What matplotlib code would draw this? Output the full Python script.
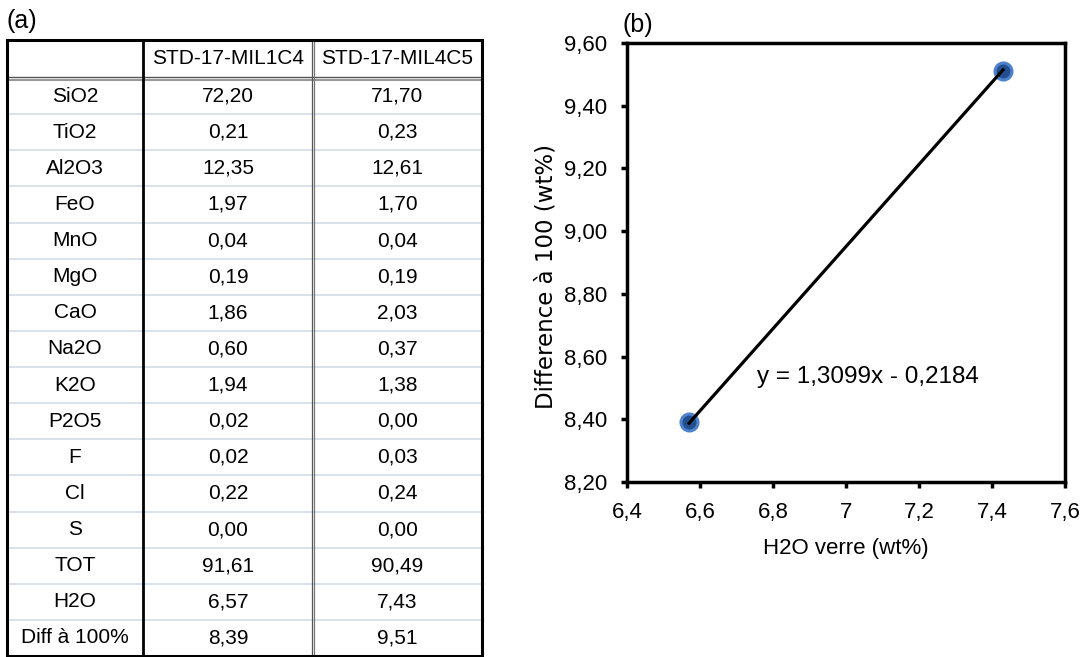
import matplotlib.pyplot as plt
import numpy as np

plt.rcParams['font.family'] = ['Liberation Sans', 'DejaVu Sans']

# table data
samples = ['STD-17-MIL1C4', 'STD-17-MIL4C5']
oxides = ['SiO2', 'TiO2', 'Al2O3', 'FeO', 'MnO', 'MgO', 'CaO', 'Na2O', 'K2O',
          'P2O5', 'F', 'Cl', 'S', 'TOT', 'H2O', 'Diff à 100%']
mil1c4 = [72.20, 0.21, 12.35, 1.97, 0.04, 0.19, 1.86, 0.60, 1.94,
          0.02, 0.02, 0.22, 0.00, 91.61, 6.57, 8.39]
mil4c5 = [71.70, 0.23, 12.61, 1.70, 0.04, 0.19, 2.03, 0.37, 1.38,
          0.00, 0.03, 0.24, 0.00, 90.49, 7.43, 9.51]

# scatter data
h2o = [6.57, 7.43]
diff100 = [8.39, 9.51]
slope = 1.3099
intercept = -0.2184

W, H = 1087, 657
fig = plt.figure(figsize=(W / 100, H / 100), dpi=100)

# ---- (a) table, axes in pixel units
ta = fig.add_axes([0, 0, 1, 1])
ta.set_xlim(0, W)
ta.set_ylim(H, 0)
ta.axis('off')
x0, x1, x2, x3 = 7, 143, 313, 482
top, hdr, bot = 40, 78, 656
rh = (bot - hdr) / len(oxides)

fs = 15
def fmt(v):
    return '{:.2f}'.format(v).replace('.', ',')

yc = (top + hdr) / 2
ta.text((x1 + x2) / 2, yc, samples[0], ha='center', va='center', fontsize=fs)
ta.text((x2 + x3) / 2, yc, samples[1], ha='center', va='center', fontsize=fs)
for i, name in enumerate(oxides):
    yc = hdr + (i + 0.5) * rh
    ta.text((x0 + x1) / 2, yc, name, ha='center', va='center', fontsize=fs)
    ta.text((x1 + x2) / 2, yc, fmt(mil1c4[i]), ha='center', va='center', fontsize=fs)
    ta.text((x2 + x3) / 2, yc, fmt(mil4c5[i]), ha='center', va='center', fontsize=fs)

# row separators
for i in range(1, len(oxides)):
    ta.hlines(hdr + i * rh, x0, x3, color='#d3dce6', lw=1.2)
# double line under header
ta.hlines(hdr - 1, x0, x3, color='#555555', lw=1.0)
ta.hlines(hdr + 1.5, x0, x3, color='#999999', lw=1.5)
# vertical lines
ta.vlines(x1, top, bot, color='black', lw=2.0)
ta.vlines(x2 - 1.2, top, bot, color='#555555', lw=0.9)
ta.vlines(x2 + 1.2, top, bot, color='#777777', lw=0.9)
# outer border
ta.plot([x0, x3, x3, x0, x0], [top, top, bot, bot, top], color='black', lw=2.2,
        solid_joinstyle='miter', clip_on=False)

ta.text(6, 21, '(a)', fontsize=18, ha='left', va='center')

# ---- (b) scatter
ax = fig.add_axes([627 / W, (H - 482) / H, 438 / W, 439 / H])
ax.scatter(h2o, diff100, s=150, color='#234f8f', edgecolors='#4f82cc',
           linewidths=2.2, zorder=2)
xs = np.array([min(h2o), max(h2o)])
ax.plot(xs, slope * xs + intercept, color='black', lw=2.3, zorder=3)
ax.text(6.757, 8.535, 'y = 1,3099x - 0,2184', fontsize=17.5, ha='left', va='center')

ax.set_xlim(6.4, 7.6)
ax.set_ylim(8.2, 9.6)
xt = [6.4, 6.6, 6.8, 7.0, 7.2, 7.4, 7.6]
yt = [8.2, 8.4, 8.6, 8.8, 9.0, 9.2, 9.4, 9.6]
ax.set_xticks(xt)
ax.set_xticklabels(['{:g}'.format(v).replace('.', ',') for v in xt])
ax.set_yticks(yt)
ax.set_yticklabels(['{:.2f}'.format(v).replace('.', ',') for v in yt])
ax.tick_params(axis='x', direction='out', length=4.5, width=2.5, labelsize=16, pad=10)
ax.tick_params(axis='y', direction='out', length=4.5, width=2.5, labelsize=16, pad=10)
for sp in ax.spines.values():
    sp.set_linewidth(2.5)
ax.set_xlabel('H2O verre (wt%)', fontsize=16, va='top')
ax.set_ylabel('Difference à 100 (wt%)', fontsize=16.5, family=['DejaVu Sans'])
ax.xaxis.set_label_coords(0.5, -0.127)
ax.yaxis.set_label_coords(-0.158, 0.467)

ta.text(622, 25, '(b)', fontsize=18, ha='left', va='center')

fig.savefig('out.png', dpi=100)
